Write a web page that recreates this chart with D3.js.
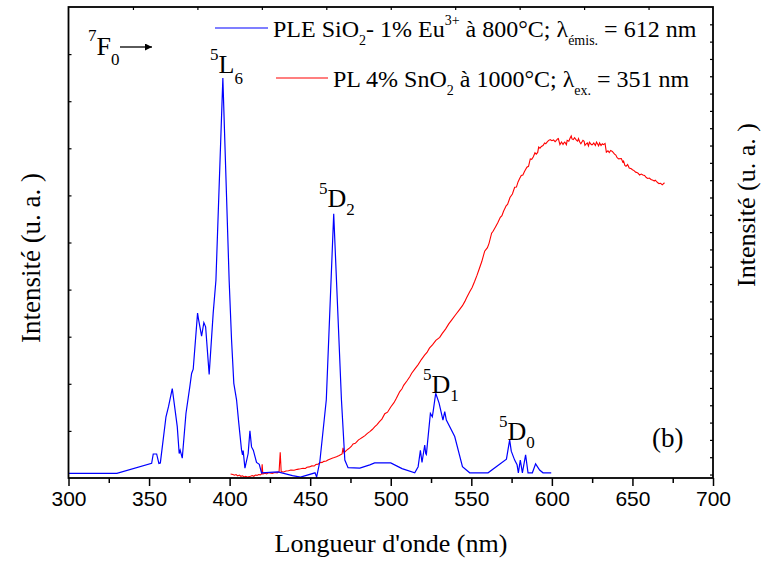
<!DOCTYPE html>
<html><head><meta charset="utf-8">
<script src="https://cdn.jsdelivr.net/npm/d3@7/dist/d3.min.js"></script>
<style>body{margin:0;background:#fff}svg{display:block}
.sf{font-family:"Times New Roman","Liberation Serif",Tinos,"DejaVu Serif","Noto Serif",FreeSerif,serif}
.ss{font-family:"Liberation Sans",Arial,sans-serif}</style>
</head><body>
<script>
// ---- data ----
const xTicks = [300,350,400,450,500,550,600,650,700];
const bleWl = [300,330,351.6,352.6,354.7,356.1,357,360.5,362.1,364.4,367.5,368.7,369.3,370.6,372.9,375.3,376.4,377.4,380.1,380.6,382.6,384,385.1,387.3,389.8,391.5,395.8,399.7,401.2,402.6,404.3,405.7,407.4,408,408.4,409.5,411.5,412.6,413.6,414.7,416.7,418.4,419.8,430,439,444,453,454,456,460,464.6,469.4,471.5,473.5,480.8,487,490,500,507,514.9,517,518.4,519.4,521.1,521.7,522.1,524.6,525.8,526.3,527.9,530,532.4,533.5,534.5,539.7,544.5,549,560.4,571.8,573.8,574.8,576.9,578.4,579.2,580.4,581.7,583.7,585.2,587.9,589.9,592.4,594.5,599.6];
const bleInt = [0.1,0.1,0.31,0.51,0.51,0.31,0.32,1.30,1.52,1.90,1.09,0.52,0.59,0.42,1.37,1.94,2.22,2.31,3.50,3.39,3.01,3.30,3.21,2.20,3.50,4.20,8.49,4.20,2.93,2.01,1.66,1.16,0.59,0.49,0.58,0.21,0.52,1.00,0.66,0.59,0.33,0.29,0.11,0.13,0.05,0.02,0.11,0.02,0.35,1.66,5.61,1.66,0.38,0.22,0.21,0.28,0.32,0.32,0.2,0.11,0.24,0.59,0.33,0.70,0.52,0.50,1.37,1.30,1.41,1.80,1.59,1.23,1.41,1.23,0.88,0.24,0.11,0.11,0.40,0.81,0.57,0.38,0.28,0.11,0.38,0.11,0.49,0.11,0.11,0.30,0.17,0.11,0.11];
const plWl = [400.6,402,403,404,405,406,407,408,409,410,411.5,412,413,414,415,416,417,418,419,419.8,420.2,420.6,422,423,424,425,426.5,428,429.5,430.7,431.4,432,433.5,435,436.5,438,440,442,444,445.6,447,448,449.5,451,452.5,453.5,455,456,457.5,458.5,460,461,462.5,464,465,466.3,468,469.8,470.4,471,472.5,474,475.5,476.6,478,479,480,481,482.5,484,485.5,487,488.5,490,491.5,493,494.5,496.3,498,500,502,503.5,505.6,507,508,510,511.8,513,515,517,519,521,522.5,524,526,528,530.4,532,534,536,538,540,542.8,544.5,546,547,549,550.5,552.1,553.5,555,556.5,558.3,560,561,562.6,563.5,565,566.5,568,569,570,571.7,572.5,574,575.5,576.9,578,579,580,581,582,583,584.5,585.5,586.6,587.5,588.5,589.5,590.3,591.2,591.8,592.6,593.5,594.5,595.5,596.2,597,598,599,600,601,602,602.8,603.5,604,605,606,606.9,607.5,608,609,609.5,610.5,611.4,612,612.5,613.3,614.1,615.3,616,616.5,617.3,618,619.3,620,620.5,621.3,622,622.7,623.3,624.5,625.2,626,627,627.7,628.3,629,629.6,630.5,631.3,632,633,633.8,634.8,635.6,636.5,637.5,638.9,639.7,640.5,641.5,643.1,644,644.5,645.3,646,647,648,649.3,650,651,652,652.5,653.5,654.4,655.5,656.5,657.5,658.6,659.5,660.5,661.5,662.7,663.5,664.2,665,665.8,666.5,667.5,668.5,669.9];
const plInt = [1.03,1.0,0.96,1.0,0.92,0.97,0.9,0.93,0.86,0.9,0.84,0.89,0.9,0.94,0.9,0.97,0.95,1.0,0.98,1.03,1.59,1.03,1.07,1.04,1.1,1.09,1.07,1.12,1.1,1.17,2.29,1.17,1.15,1.2,1.22,1.26,1.25,1.3,1.33,1.36,1.35,1.42,1.44,1.50,1.49,1.58,1.6,1.69,1.7,1.76,1.78,1.84,1.9,1.95,1.98,2.03,2.1,2.19,2.54,2.25,2.4,2.5,2.62,2.77,2.8,2.9,3.0,3.06,3.15,3.25,3.38,3.48,3.6,3.75,3.88,4.05,4.2,4.51,4.6,4.9,5.15,5.4,5.79,5.95,6.15,6.4,6.65,6.85,7.1,7.35,7.64,7.9,8.05,8.3,8.5,8.75,8.92,9.15,9.4,9.7,9.95,10.2,10.54,10.75,11.0,11.2,11.55,11.8,12.16,12.5,12.9,13.3,13.9,14.1,14.35,14.94,15.05,15.3,15.55,15.85,15.95,16.2,16.53,16.6,17.0,17.2,17.59,17.6,17.9,18.1,18.27,18.3,18.5,18.75,18.8,19.23,19.2,19.35,19.58,19.5,19.6,19.91,19.85,19.95,20.0,20.15,20.1,20.2,20.3,20.34,20.28,20.32,20.22,20.30,20.38,20.4,20.05,20.2,20.06,20.15,20.2,20.05,20.30,20.25,20.45,20.55,20.38,20.34,20.45,20.30,20.25,20.4,20.2,20.10,20.3,20.25,20.01,20.1,20.15,19.98,20.19,20.05,20.05,20.15,20.0,20.2,20.10,19.98,20.15,20.0,20.10,20.05,20.12,19.62,19.7,19.6,19.72,19.66,19.5,19.45,19.3,19.23,19.25,19.05,19.1,18.85,18.8,18.9,18.7,18.66,18.6,18.55,18.46,18.45,18.4,18.3,18.35,18.3,18.27,18.15,18.1,18.12,18.04,18.0,17.95,18.0,17.92,17.85,17.8,17.82,17.73,17.85,17.8,17.88,17.88];

// ---- layout ----
const W = 763, H = 561;
const L = 68.5, R = 713, T = 7, B = 478;
const svg = d3.select("body").append("svg").attr("width", W).attr("height", H);

const x = d3.scaleLinear().domain([300, 700]).range([L, R]);
const y = d3.scaleLinear().domain([0, 10]).range([B, T]);
const y2 = d3.scaleLinear().domain([0.8, 28]).range([B, T]);

svg.append("clipPath").attr("id", "clip").append("rect")
  .attr("x", L).attr("y", T).attr("width", R - L).attr("height", B - T);

// bottom axis
const bx = svg.append("g").attr("transform", `translate(0,${B})`)
  .call(d3.axisBottom(x).tickValues(xTicks).tickSize(8).tickPadding(5).tickFormat(d3.format("d")));
bx.select(".domain").remove();
bx.attr("font-family", null).attr("font-size", null);
bx.selectAll("line").attr("stroke", "#000").attr("stroke-width", 1.5);
bx.selectAll("text").attr("class", "ss").attr("font-size", 21).attr("fill", "#000");
svg.append("g").attr("transform", `translate(0,${B})`)
  .call(d3.axisBottom(x).tickValues(d3.range(325, 700, 50)).tickSize(5).tickFormat(""))
  .call(g => g.select(".domain").remove())
  .selectAll("line").attr("stroke", "#000").attr("stroke-width", 1.5);

// top axis (inward small ticks)
svg.append("g").attr("transform", `translate(0,${T})`)
  .call(d3.axisBottom(d3.scaleLinear().domain([0, 10]).range([L, R])).tickValues(d3.range(1, 10)).tickSize(3).tickFormat(""))
  .call(g => g.select(".domain").remove())
  .selectAll("line").attr("stroke", "#000").attr("stroke-width", 1.2);

// left axis (inward)
svg.append("g").attr("transform", `translate(${L},0)`)
  .call(d3.axisRight(y).tickValues(d3.range(1, 10)).tickSize(3).tickFormat(""))
  .call(g => g.select(".domain").remove())
  .selectAll("line").attr("stroke", "#000").attr("stroke-width", 1.2);

// right axis (inward)
svg.append("g").attr("transform", `translate(${R},0)`)
  .call(d3.axisLeft(y2).tickValues(d3.range(1, 28)).tickSize(3).tickFormat(""))
  .call(g => g.select(".domain").remove())
  .selectAll("line").attr("stroke", "#000").attr("stroke-width", 1.2);

// curves
const plot = svg.append("g").attr("clip-path", "url(#clip)");
const blue = bleWl.map((d, i) => [d, bleInt[i]]);
const red = plWl.map((d, i) => [d, plInt[i]]);
plot.append("path").datum(red).attr("fill", "none").attr("stroke", "#ff0000").attr("stroke-width", 1.1)
  .attr("d", d3.line().x(d => x(d[0])).y(d => y2(d[1])));
plot.append("path").datum(blue).attr("fill", "none").attr("stroke", "#0000ff").attr("stroke-width", 1.2)
  .attr("d", d3.line().x(d => x(d[0])).y(d => y(d[1])));

// frame
svg.append("rect").attr("x", L).attr("y", T).attr("width", R - L).attr("height", B - T)
  .attr("fill", "none").attr("stroke", "#000").attr("stroke-width", 1.8);

// rich text helper: parts [text, kind]; sub/sup shifts in px
function rich(g, xx, yy, parts, size, small, up, down) {
  const t = g.append("text").attr("class", "sf").attr("x", xx).attr("y", yy)
    .attr("font-size", size).attr("fill", "#000");
  let cur = 0;
  parts.forEach(p => {
    const [txt, kind] = p;
    let shift = 0, fs = size;
    if (kind === "sub") { shift = down; fs = small; }
    if (kind === "sup") { shift = -up; fs = small; }
    t.append("tspan").attr("dy", shift - cur).attr("font-size", fs).text(txt);
    cur = shift;
  });
  return t;
}

// legend
svg.append("line").attr("x1", 215).attr("x2", 268).attr("y1", 28).attr("y2", 28).attr("stroke", "#0000ff").attr("stroke-width", 1.2);
rich(svg, 273, 37, [["PLE SiO"], ["2", "sub"], ["- 1% Eu"], ["3+", "sup"], [" à 800°C; λ"], ["émis.", "sub"], [" = 612 nm"]], 24, 14, 12, 8);
svg.append("line").attr("x1", 276).attr("x2", 328).attr("y1", 78).attr("y2", 78).attr("stroke", "#ff0000").attr("stroke-width", 1.1);
rich(svg, 333, 87, [["PL 4% SnO"], ["2", "sub"], [" à 1000°C; λ"], ["ex.", "sub"], [" = 351 nm"]], 24, 14, 12, 8);

// annotations
rich(svg, 88, 55, [["7", "sup"], ["F"], ["0", "sub"]], 26, 17, 14, 10);
svg.append("defs").append("marker").attr("id", "arr").attr("viewBox", "0 0 10 10").attr("refX", 10).attr("refY", 5)
  .attr("markerWidth", 11).attr("markerHeight", 7).attr("markerUnits", "userSpaceOnUse").attr("orient", "auto")
  .append("path").attr("d", "M0,0L10,5L0,10z").attr("fill", "#000");
svg.append("line").attr("x1", 120).attr("x2", 152).attr("y1", 47).attr("y2", 47).attr("stroke", "#000").attr("stroke-width", 1.3).attr("marker-end", "url(#arr)");
rich(svg, 210, 73, [["5", "sup"], ["L"], ["6", "sub"]], 26, 17, 13, 11);
rich(svg, 319, 207, [["5", "sup"], ["D"], ["2", "sub"]], 26, 17, 13, 8);
rich(svg, 423, 393, [["5", "sup"], ["D"], ["1", "sub"]], 26, 17, 13, 8);
rich(svg, 499, 440, [["5", "sup"], ["D"], ["0", "sub"]], 26, 17, 13, 8);
svg.append("text").attr("class", "sf").attr("x", 652).attr("y", 447).attr("font-size", 27).text("(b)");

// axis titles
svg.append("text").attr("class", "sf").attr("x", 391).attr("y", 552).attr("text-anchor", "middle").attr("font-size", 26).text("Longueur d'onde (nm)");
svg.append("text").attr("class", "sf").attr("transform", "translate(40,258) rotate(-90)").attr("text-anchor", "middle").attr("font-size", 27).text("Intensité (u. a. )");
svg.append("text").attr("class", "sf").attr("transform", "translate(755,205) rotate(-90)").attr("text-anchor", "middle").attr("font-size", 26).text("Intensité (u. a. )");
</script>
</body></html>
